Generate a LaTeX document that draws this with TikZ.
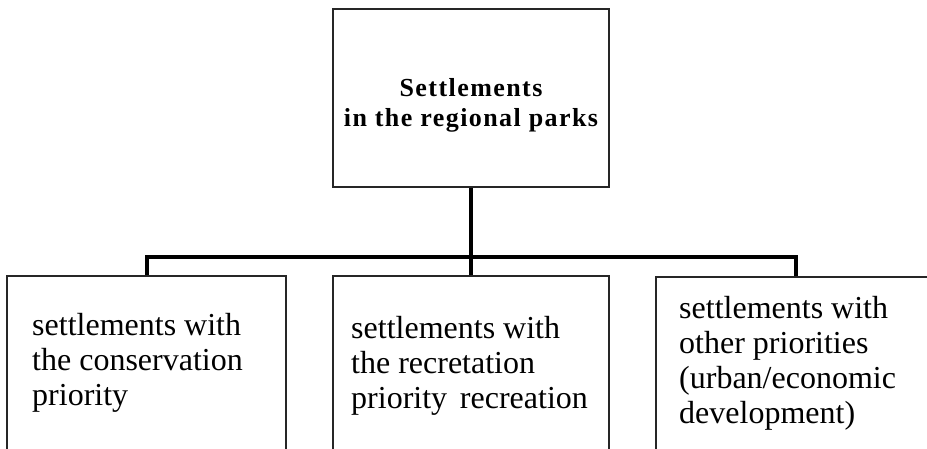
\documentclass[tikz,border=0pt]{standalone}
\usepackage{fontspec}
\setmainfont{Liberation Serif}
\begin{document}
\begin{tikzpicture}[x=1pt,y=-1pt,
  box/.style={draw=black!85,line width=1.3pt,rectangle,inner sep=0pt},
  conn/.style={draw=black,line width=4pt},
  bodytext/.style={anchor=north west,align=left,inner sep=0pt,font=\fontsize{32}{35}\selectfont},
  headtext/.style={anchor=north,align=center,inner sep=0pt,font=\addfontfeature{LetterSpace=5.5}\bfseries\fontsize{26}{30}\selectfont}]
\useasboundingbox (0,0) rectangle (927,449);
\clip (0,0) rectangle (927,449);
% boxes
\node[box,minimum width=276pt,minimum height=178pt] (top) at (471,98) {};
\node[box,minimum width=279pt,minimum height=220pt] (a) at (146.5,386) {};
\node[box,minimum width=276pt,minimum height=220pt] (b) at (471,386) {};
\node[box,minimum width=279pt,minimum height=220pt] (c) at (795.5,387) {};
% texts
\node[headtext] (toptext) at (471,78) {Settlements\\in the regional parks};
\node[bodytext] (atext) at (32,313) {settlements with\\the conservation\\priority};
\node[bodytext] (btext) at (351,316) {settlements with\\the recretation\\priority\hspace{0.4em}recreation};
\node[bodytext] (ctext) at (679,296) {settlements with\\other priorities\\(urban/economic\\development)};
% connectors
\coordinate (bus) at (0,257);
\draw[conn] (top.south) -- (top.south |- bus);
\draw[conn] (a.north) -- (a.north |- bus) -- (c.north |- bus) -- (c.north);
\draw[conn] (b.north) -- (b.north |- bus);
\end{tikzpicture}
\end{document}
